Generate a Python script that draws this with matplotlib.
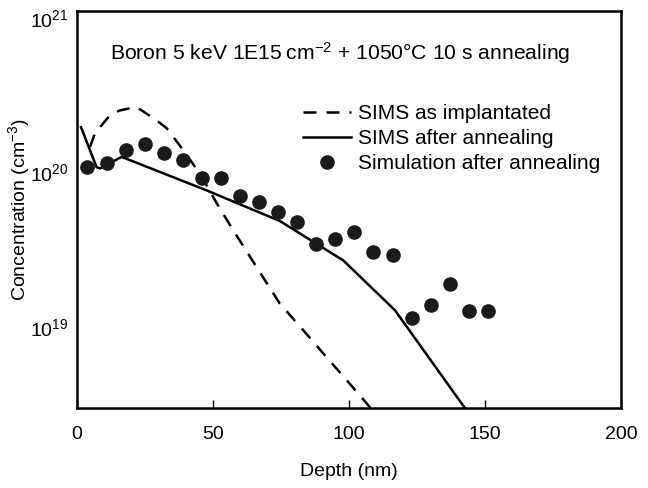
import numpy as np
import matplotlib
matplotlib.use("Agg")
import matplotlib.pyplot as plt

plt.rcParams['font.family'] = ['Liberation Sans', 'DejaVu Sans']
plt.rcParams['mathtext.fontset'] = 'custom'
plt.rcParams['mathtext.rm'] = 'Liberation Sans'
plt.rcParams['mathtext.it'] = 'Liberation Sans:italic'
plt.rcParams['mathtext.bf'] = 'Liberation Sans:bold'
plt.rcParams['mathtext.default'] = 'regular'

# SIMS as implanted (dashed)
imp_depth = [4.8, 6.6, 12.1, 15.8, 21.9, 29.3, 33.0, 39.1, 45.2, 51.4, 57.5, 74.6, 83.2, 90.6, 99.2, 107.1, 109.0]
imp_conc = [1.46e20, 1.79e20, 2.34e20, 2.52e20, 2.65e20, 2.17e20, 1.93e20, 1.39e20, 9.8e19, 6.3e19,
            4.2e19, 1.41e19, 9.5e18, 6.7e18, 4.5e18, 3.1e18, 2.8e18]

# SIMS after annealing (solid)
ann_depth = [1.5, 7.2, 8.5, 16.4, 47.7, 74.6, 87.9, 97.9, 116.9, 145.0]
ann_conc = [1.96e20, 1.08e20, 1.06e20, 1.26e20, 7.64e19, 4.84e19, 3.46e19, 2.69e19, 1.28e19, 2.6e18]

# Simulation after annealing (dots)
sim_depth = [3.6, 10.9, 17.9, 24.9, 31.9, 38.9, 46.0, 52.9, 59.9, 66.9, 73.9, 80.9,
             87.9, 95.0, 101.9, 108.9, 116.1, 123.1, 130.0, 137.0, 144.0, 151.0]
sim_conc = [1.08e20, 1.15e20, 1.40e20, 1.53e20, 1.33e20, 1.21e20, 9.15e19, 9.15e19, 7.06e19, 6.42e19,
            5.51e19, 4.75e19, 3.46e19, 3.70e19, 4.09e19, 3.04e19, 2.92e19, 1.14e19, 1.38e19,
            1.89e19, 1.26e19, 1.26e19]

x_ticks = [0, 50, 100, 150, 200]
y_ticks = [1e19, 1e20, 1e21]
y_tick_labels = ['10$^{19}$', '10$^{20}$', '10$^{21}$']

fig = plt.figure(figsize=(6.48, 4.88), dpi=100)
ax = fig.add_axes([0.1188, 0.1639, 0.8395, 0.8136])

ax.plot(imp_depth, imp_conc, color='black', lw=1.8, dashes=(5.2, 4.0), label='SIMS as implantated')
ax.plot(ann_depth, ann_conc, color='black', lw=1.8, label='SIMS after annealing')
ax.plot(sim_depth, sim_conc, 'o', color='#1a1a1a', ms=9.5, label='Simulation after annealing')

ax.set_yscale('log')
ax.set_xlim(0, 200)
ax.set_ylim(10**18.474, 10**21.045)
ax.set_xticks(x_ticks)
ax.set_xticklabels([str(v) for v in x_ticks])
ax.set_yticks(y_ticks)
ax.set_yticklabels(y_tick_labels)
ax.yaxis.set_minor_locator(matplotlib.ticker.NullLocator())
ax.tick_params(axis='x', direction='in', length=6, width=1, labelsize=14, pad=13)
ax.tick_params(axis='y', length=0, labelsize=14, pad=6)
for s in ax.spines.values():
    s.set_linewidth(1.8)

ax.set_xlabel('Depth (nm)', fontsize=14, labelpad=14.5)
ax.set_ylabel('Concentration (cm$^{-3}$)', fontsize=14, labelpad=-1.5)

ax.text(0.06, 0.893, 'Boron 5 keV 1E15\u2009cm$^{-2}$ + 1050\u00b0C 10 s annealing',
        transform=ax.transAxes, fontsize=15.2, va='center', ha='left')

ax.legend(loc='upper left', bbox_to_anchor=(0.40, 0.787), frameon=False, fontsize=15,
          handlelength=2.3, handletextpad=0.35, labelspacing=0.3, borderaxespad=0)

fig.savefig('out.png', dpi=100)
